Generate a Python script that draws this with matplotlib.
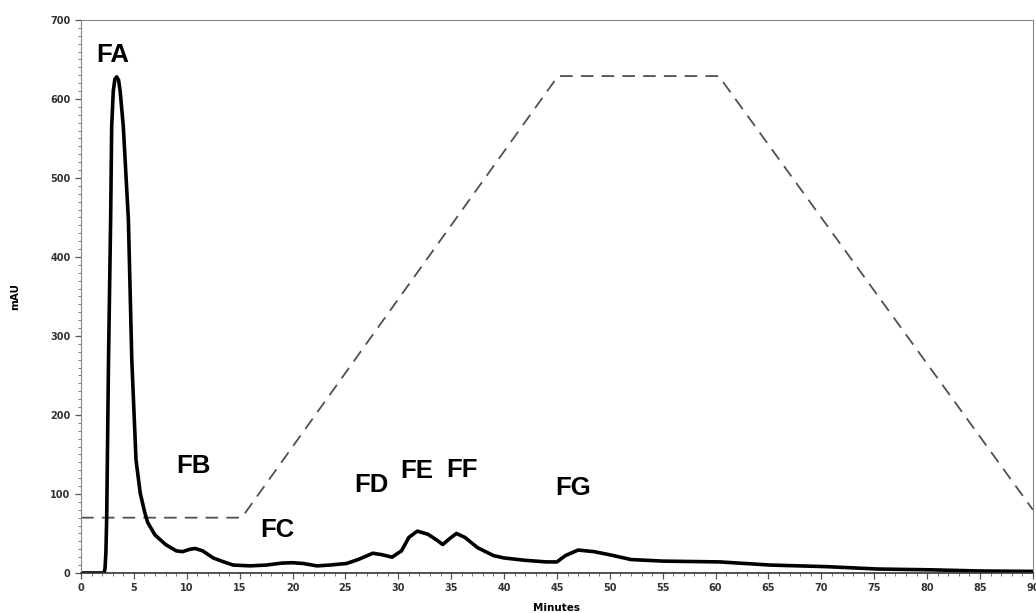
import matplotlib.pyplot as plt
from matplotlib.ticker import MultipleLocator
import numpy as np

# chromatogram trace (minutes, mAU)
time_min = [0, 1, 2.0, 2.2, 2.27, 2.35, 2.43, 2.6, 2.8, 2.9, 3.05, 3.2, 3.37, 3.55, 3.7, 4.0,
            4.48, 4.8, 5.2, 5.6, 6.0, 6.3, 7.0, 8.0, 9.0, 9.6, 10.3, 10.8, 11.5, 12.5,
            13.5, 14.4, 16.0, 17.5, 19.0, 20.0, 21.0, 22.3, 23.5, 25.1, 26.2, 27.6, 28.5,
            29.4, 30.3, 31.0, 31.8, 32.8, 33.6, 34.2, 34.9, 35.5, 36.3, 37.5, 39.0, 40.0,
            42.0, 44.0, 45.0, 45.8, 47.0, 48.5, 50.0, 52.0, 55.0, 60.4, 65.2, 70.5, 75.3,
            80.3, 85.0, 90.0]
signal_mau = [0, 0, 0, 1, 6, 25, 71, 270, 447, 565, 610, 625, 628, 624, 610, 565,
              447, 270, 143, 101, 78, 64, 48, 36, 28, 27, 30, 31, 28, 19,
              14, 10, 9, 10, 12.5, 13, 12, 9, 10, 12, 17, 25, 23,
              20, 28, 45, 53, 49, 42, 36, 44, 50, 45, 32, 22, 19,
              16, 14, 14, 22, 29, 27, 23, 17, 15, 14, 10, 8, 5,
              4, 2.5, 2]

# solvent gradient program
grad_time = [0, 15.2, 45.1, 60.3, 90]
grad_level = [70, 70, 629, 629, 80]

# fraction labels
frac_names = ["FA", "FB", "FC", "FD", "FE", "FF", "FG"]
frac_x = [3.0, 10.6, 18.6, 27.5, 31.7, 36.0, 46.5]
frac_y = [656, 135, 54, 111, 129, 130, 108]

fig = plt.figure(figsize=(10.36, 6.13), dpi=100)
ax = fig.add_axes([0.0782, 0.0653, 0.9188, 0.9021])

ax.plot(grad_time, grad_level, color="#505050", lw=1.3, dashes=(7, 4.5))
ax.plot(time_min, signal_mau, color="black", lw=2.6, solid_joinstyle="round")

for name, x, y in zip(frac_names, frac_x, frac_y):
    ax.text(x, y, name, ha="center", va="center", fontsize=18.5,
            fontweight="bold", family="Liberation Sans")

ax.set_xlim(0, 90)
ax.set_ylim(0, 700)
ax.xaxis.set_major_locator(MultipleLocator(5))
ax.xaxis.set_minor_locator(MultipleLocator(1))
ax.yaxis.set_major_locator(MultipleLocator(100))
ax.yaxis.set_minor_locator(MultipleLocator(10))
ax.tick_params(which="major", length=4, width=0.9, color="#555555",
               labelsize=7, labelcolor="#333333")
ax.tick_params(which="minor", length=2, width=0.7, color="#777777")
for lab in ax.get_xticklabels() + ax.get_yticklabels():
    lab.set_fontweight("bold")

for side in ["top", "right", "left"]:
    ax.spines[side].set_color("#888888")
ax.spines["bottom"].set_color("#333333")
ax.spines["bottom"].set_linewidth(1.2)

ax.set_xlabel("Minutes", fontsize=7.5, fontweight="bold", labelpad=7)
ax.set_ylabel("mAU", fontsize=7.5, fontweight="bold", labelpad=22)

fig.savefig("out.png", dpi=100)
